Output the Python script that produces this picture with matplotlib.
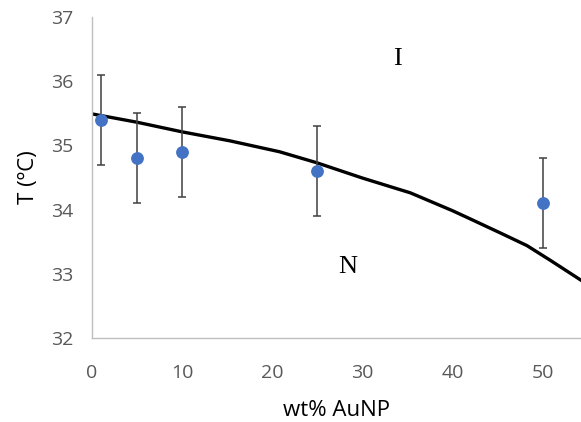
import matplotlib
matplotlib.use("Agg")
import matplotlib.pyplot as plt

# measured transition temperatures
wt = [1, 5, 10, 25, 50]
temp = [35.4, 34.8, 34.9, 34.6, 34.1]
err = [0.7, 0.7, 0.7, 0.7, 0.7]

# phase boundary (N / I)
curve_x = [0, 5, 10, 15.3, 20.8, 24.9, 30, 35.3, 40, 42, 45.2, 48.2, 50.8, 54.2]
curve_y = [35.49, 35.36, 35.21, 35.07, 34.90, 34.73, 34.49, 34.26, 33.98, 33.85,
           33.64, 33.44, 33.21, 32.90]

xticks = [0, 10, 20, 30, 40, 50]
yticks = [32, 33, 34, 35, 36, 37]

plt.rcParams['font.family'] = ['Open Sans', 'DejaVu Sans']

fig = plt.figure(figsize=(5.81, 4.22), dpi=100)
ax = fig.add_axes([0.158, 0.199, 0.842, 0.761])

ax.plot(curve_x, curve_y, color='black', lw=2.4, zorder=2, solid_joinstyle='round')
ax.errorbar(wt, temp, yerr=err, fmt='none', ecolor='#404040', elinewidth=1.1,
            capsize=3.2, capthick=1.1, zorder=3)
ax.plot(wt, temp, 'o', color='#4472C4', markersize=8.2, zorder=4)

ax.text(33.9, 36.35, 'I', family='Liberation Serif', fontsize=19, ha='center', va='center')
ax.text(28.4, 33.1, 'N', family='Liberation Serif', fontsize=19, ha='center', va='center')

ax.set_xlim(0, 54.2)
ax.set_ylim(32, 37)
ax.set_xticks(xticks)
ax.set_yticks(yticks)

for side in ['top', 'right']:
    ax.spines[side].set_visible(False)
for side in ['left', 'bottom']:
    ax.spines[side].set_color('#BFBFBF')
    ax.spines[side].set_linewidth(1.0)

ax.tick_params(axis='both', length=0, labelsize=14, labelcolor='#595959')
ax.tick_params(axis='x', pad=19)
ax.tick_params(axis='y', pad=13)

ax.set_xlabel('wt% AuNP', fontsize=16, labelpad=13)
ax.set_ylabel('T (ºC)', fontsize=16, labelpad=9)

fig.savefig('out.png', dpi=100)
